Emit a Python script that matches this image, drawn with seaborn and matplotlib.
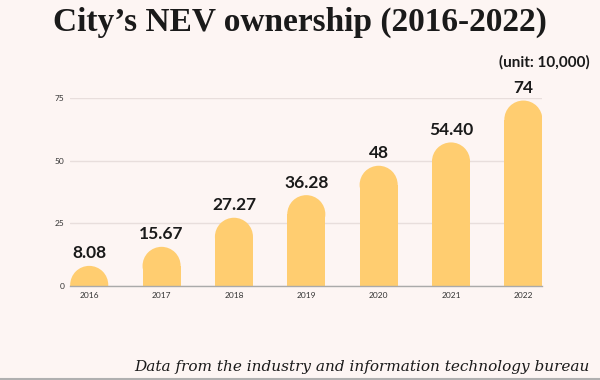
import pandas as pd
import numpy as np
import seaborn as sns
import matplotlib.pyplot as plt
from matplotlib.patches import Ellipse

# data (bar heights as drawn in the source; 2021 is drawn taller than its label)
years = ['2016', '2017', '2018', '2019', '2020', '2021', '2022']
ownership = [8.08, 15.67, 27.27, 36.28, 48, 57.3, 74]
labels = ['8.08', '15.67', '27.27', '36.28', '48', '54.40', '74']
yticks = [0, 25, 50, 75]

bg = '#fdf5f3'
bar_color = '#ffcd70'

df = pd.DataFrame({'year': years, 'value': ownership})

sns.set_theme(style='white')
plt.rcParams['font.family'] = ['Lato', 'DejaVu Sans']

fig = plt.figure(figsize=(6, 3.8), dpi=100, facecolor=bg)
ax = fig.add_axes([0.117, 0.247, 0.787, 0.495])
ax.set_facecolor(bg)

bw = 0.526
sns.barplot(x='year', y='value', data=df, color=bar_color, width=bw,
            saturation=1, ax=ax, zorder=2, linewidth=0, edgecolor='none')

ax.set_xlim(-bw / 2, len(years) - 1 + bw / 2)
ax.set_ylim(0, 75)

# rounded caps: convert half the bar width to data units vertically
fig.canvas.draw()
bbox = ax.get_window_extent()
px_x = bbox.width / (ax.get_xlim()[1] - ax.get_xlim()[0])
px_y = bbox.height / (ax.get_ylim()[1] - ax.get_ylim()[0])
for p, lab in zip(ax.patches, labels):
    h = p.get_height()
    w = p.get_width()
    r = (w / 2) * px_x / px_y
    cx = p.get_x() + w / 2
    p.set_height(max(h - r, 0))
    ax.add_patch(Ellipse((cx, h - r), w, 2 * r, facecolor=bar_color,
                         edgecolor='none', linewidth=0, zorder=2))
    ax.text(cx, h + 1.8, lab, ha='center', va='bottom', fontsize=12.5,
            fontweight='bold', color='#1a1a1a', zorder=3)

ax.set_yticks(yticks)
ax.yaxis.grid(True, color='#e8dedc', linewidth=1, zorder=0)
ax.set_axisbelow(True)
for s in ['top', 'right', 'left']:
    ax.spines[s].set_visible(False)
ax.spines['bottom'].set_color('#aaaaaa')
ax.spines['bottom'].set_linewidth(1)
ax.spines['bottom'].set_zorder(4)
ax.tick_params(axis='both', length=0, labelsize=6, colors='#333333', pad=4)
ax.set_xlabel('')
ax.set_ylabel('')

fig.text(0.5, 0.942, 'City\u2019s NEV ownership (2016-2022)', ha='center', va='center',
         fontsize=24, fontweight='bold', family=['Liberation Serif', 'DejaVu Serif'],
         color='#1a1a1a')
fig.text(0.983, 0.837, '(unit: 10,000)', ha='right', va='center', fontsize=11,
         fontweight='bold', color='#1a1a1a')
fig.text(0.983, 0.035, 'Data from the industry and information technology bureau',
         ha='right', va='center', fontsize=11, style='italic',
         family=['DejaVu Serif'], color='#1a1a1a')
fig.add_artist(plt.Line2D([0, 1], [0.002, 0.002], color='#b0b0b0', linewidth=1.5,
                          transform=fig.transFigure))

fig.savefig('out.png', dpi=100, facecolor=bg)
